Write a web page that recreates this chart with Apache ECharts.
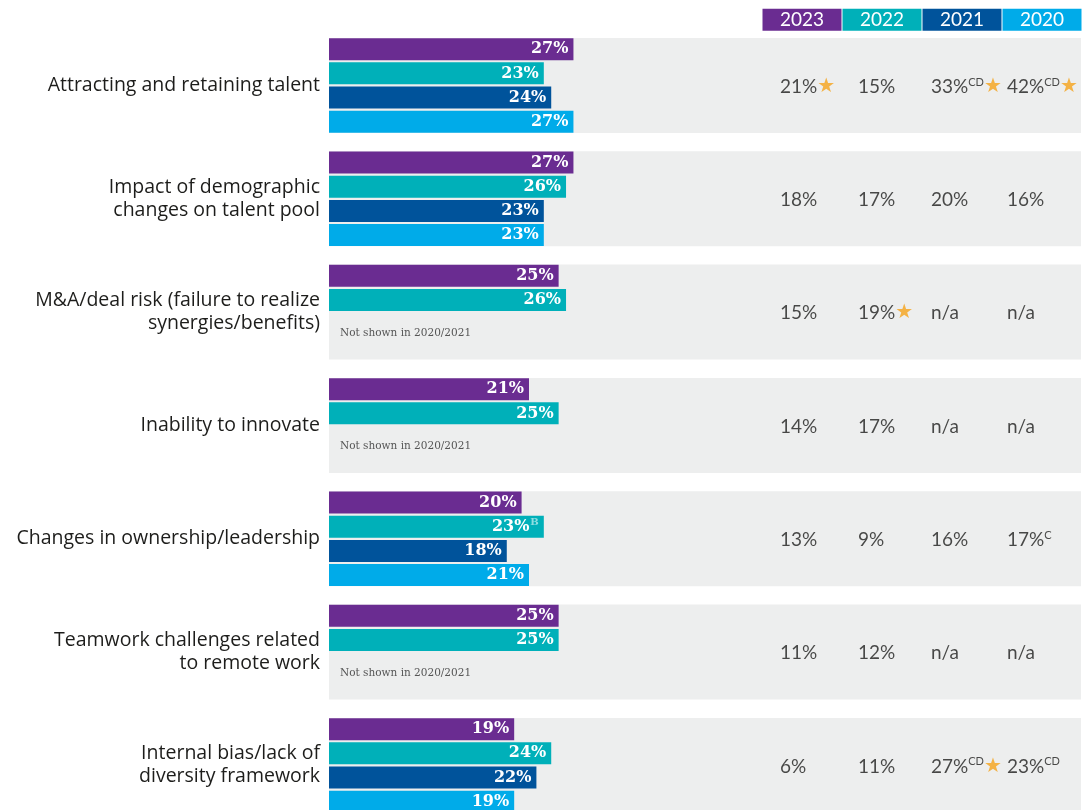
<!DOCTYPE html>
<html>
<head>
<meta charset="utf-8">
<script src="https://cdn.jsdelivr.net/npm/echarts@6/dist/echarts.min.js"></script>
<style>
  html, body { margin: 0; padding: 0; background: #fff; }
  #chart { width: 1090px; height: 810px; }
</style>
</head>
<body>
<div id="chart"></div>
<script>
const categories = [
  'Attracting and retaining talent',
  'Impact of demographic\nchanges on talent pool',
  'M&A/deal risk (failure to realize\nsynergies/benefits)',
  'Inability to innovate',
  'Changes in ownership/leadership',
  'Teamwork challenges related\nto remote work',
  'Internal bias/lack of\ndiversity framework'
];
const years = ['2023', '2022', '2021', '2020'];

// bar values (%)
const bars2023 = [27, 27, 25, 21, 20, 25, 19];
const bars2022 = [23, 26, 26, 25, 23, 25, 24];
const bars2021 = [24, 23, null, null, 18, null, 22];
const bars2020 = [27, 23, null, null, 21, null, 19];
const barNotes2022 = ['', '', '', '', 'B', '', ''];

// right hand table (%)
const table2023 = [21, 18, 15, 14, 13, 11, 6];
const table2022 = [15, 17, 19, 17, 9, 12, 11];
const table2021 = [33, 20, null, null, 16, null, 27];
const table2020 = [42, 16, null, null, 17, null, 23];
const notes2023 = ['', '', '', '', '', '', ''];
const notes2022 = ['', '', '', '', '', '', ''];
const notes2021 = ['CD', '', '', '', '', '', 'CD'];
const notes2020 = ['CD', '', '', '', 'C', '', 'CD'];
const stars2023 = [1, 0, 0, 0, 0, 0, 0];
const stars2022 = [0, 0, 1, 0, 0, 0, 0];
const stars2021 = [1, 0, 0, 0, 0, 0, 1];
const stars2020 = [1, 0, 0, 0, 0, 0, 0];

const colors = { '2023': '#6a2c91', '2022': '#00b0b9', '2021': '#00539b', '2020': '#00abe9' };
const textColor = '#1d1d1b';
const sans = 'Lato';

const gridTop = 28.8;
const gridHeight = 793.3;

const chart = echarts.init(document.getElementById('chart'));

const barSeries = [
  ['2023', bars2023, []],
  ['2022', bars2022, barNotes2022],
  ['2021', bars2021, []],
  ['2020', bars2020, []]
].map(([year, data, notes]) => ({
  name: year,
  type: 'bar',
  xAxisIndex: 0,
  yAxisIndex: 0,
  data: data,
  barWidth: 22,
  barGap: '10%',
  z: 3,
  itemStyle: { color: colors[year] },
  label: {
    show: true,
    position: 'insideRight',
    distance: 5,
    color: '#fff',
    fontFamily: 'DejaVu Serif',
    fontWeight: 'bold',
    fontSize: 16,
    formatter: p => p.value + '%' + (notes[p.dataIndex] ? '{b|' + notes[p.dataIndex] + '}' : ''),
    rich: {
      b: { fontFamily: 'DejaVu Serif', fontSize: 10, color: '#8fdde1', verticalAlign: 'top', padding: [0, 0, 9, 1] }
    }
  }
}));

const panelSeries = {
  type: 'bar',
  xAxisIndex: 1,
  yAxisIndex: 1,
  barWidth: 95,
  z: 1,
  silent: true,
  itemStyle: { color: '#edeeee' },
  data: categories.map((c, i) => ({
    value: 1,
    label: { show: bars2021[i] == null && bars2020[i] == null }
  })),
  label: {
    position: 'insideLeft',
    distance: 5,
    offset: [6, 21],
    formatter: 'Not shown in 2020/2021',
    fontFamily: 'DejaVu Serif',
    fontSize: 10.5,
    color: '#555'
  }
};

const tableSeries = [
  [table2023, notes2023, stars2023, -22],
  [table2022, notes2022, stars2022, -24],
  [table2021, notes2021, stars2021, -31],
  [table2020, notes2020, stars2020, -35]
].map(([vals, notes, stars, dx], k) => ({
  type: 'scatter',
  xAxisIndex: 2,
  yAxisIndex: 2,
  symbolSize: 0,
  z: 4,
  data: vals.map((v, i) => [k, i]),
  label: {
    show: true,
    position: 'inside',
    align: 'left',
    offset: [dx, 1],
    fontFamily: sans,
    fontSize: 19,
    color: textColor,
    formatter: p => {
      const i = p.dataIndex;
      let s = vals[i] == null ? 'n/a' : vals[i] + '%';
      if (notes[i]) s += '{sup|' + notes[i] + '}';
      if (stars[i]) s += '{star|★}';
      return s;
    },
    rich: {
      sup: { fontFamily: sans, fontSize: 11, color: textColor, verticalAlign: 'top', padding: [0, 0, 9, 0] },
      star: { fontFamily: 'DejaVu Sans', fontSize: 20, color: '#f5a31a' }
    }
  }
}));

const headerRich = {};
years.forEach(y => {
  headerRich['y' + y] = {
    backgroundColor: colors[y],
    color: '#fff',
    width: 79,
    height: 22,
    lineHeight: 22,
    align: 'center',
    fontFamily: sans,
    fontSize: 19
  };
});

chart.setOption({
  animation: false,
  grid: [
    { left: 329, top: gridTop, width: 400, height: gridHeight, outerBoundsMode: 'none' },
    { left: 329, top: gridTop, width: 752, height: gridHeight, outerBoundsMode: 'none' },
    { left: 762, top: gridTop, width: 320, height: gridHeight, outerBoundsMode: 'none' }
  ],
  xAxis: [
    { gridIndex: 0, type: 'value', min: -6, max: 48, startValue: -6, show: false },
    { gridIndex: 1, type: 'value', min: 0, max: 1, show: false },
    {
      gridIndex: 2,
      type: 'category',
      data: years,
      position: 'top',
      axisLine: { show: false },
      axisTick: { show: false },
      axisLabel: {
        margin: -2,
        interval: 0,
        formatter: v => '{y' + v + '|' + v + '}',
        rich: headerRich
      }
    }
  ],
  yAxis: [
    {
      gridIndex: 0,
      type: 'category',
      data: categories,
      inverse: true,
      axisLine: { show: false },
      axisTick: { show: false },
      axisLabel: {
        margin: 9,
        interval: 0,
        fontFamily: 'Open Sans',
        fontSize: 19.5,
        lineHeight: 23,
        color: textColor,
        align: 'right'
      }
    },
    { gridIndex: 1, type: 'category', data: categories, inverse: true, show: false },
    { gridIndex: 2, type: 'category', data: categories, inverse: true, show: false }
  ],
  series: [panelSeries].concat(barSeries, tableSeries)
});
</script>
</body>
</html>
